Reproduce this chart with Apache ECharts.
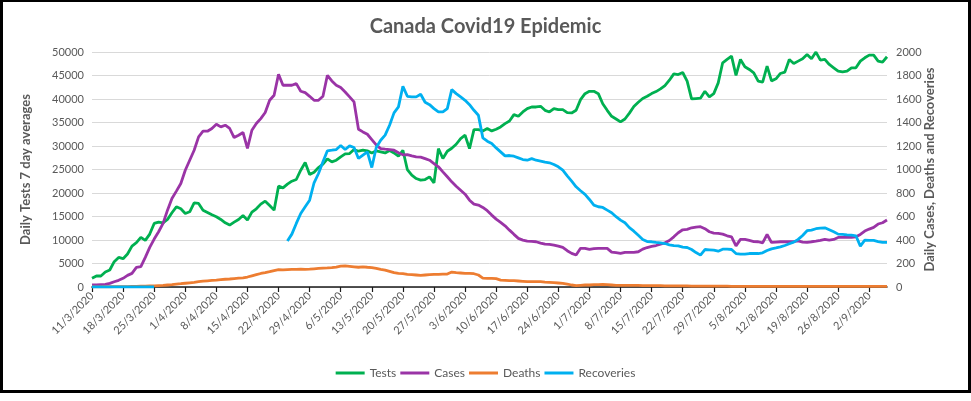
<!DOCTYPE html>
<html>
<head>
<meta charset="utf-8">
<script src="https://cdn.jsdelivr.net/npm/echarts@6/dist/echarts.min.js"></script>
<style>
html,body{margin:0;padding:0;background:#fff;}
#wrap{position:relative;width:971px;height:401px;}
#chart{position:absolute;left:0;top:0;width:971px;height:401px;}
#frame{position:absolute;left:0;top:0;width:971px;height:393px;box-sizing:border-box;border:3px solid #000;border-top-width:2px;pointer-events:none;}
</style>
</head>
<body>
<div id="wrap"><div id="chart"></div><div id="frame"></div></div>
<script>
// ---- data ----
const startDate = [2020, 3, 11];   // 11/3/2020, one point per day
const dayCount = 180;

const tests = [
1840,2340,2340,3190,3610,5380,6300,6020,7010,8710,9420,10550,9910,11260,13520,13800,13660,14370,15790,17060,
16640,15650,16000,17910,17770,16350,15860,15360,14940,14370,13660,13170,13800,14370,15220,14230,15930,16640,17630,18270,
17350,16350,21450,21100,21880,22510,22870,24850,26480,23930,24430,25420,26130,27260,26620,26970,27680,28320,28390,29240,
28890,29100,28960,28530,28960,
28750,28530,29030,28530,27820,29100,24990,23790,23080,22730,22870,23430,22160,29450,27330,28890,29520,30370,31580,32290,
29450,33490,33490,33210,33700,33210,33560,34050,34760,35330,36670,36320,37240,37950,38300,38300,38440,37590,37240,37950,
37740,37740,37100,37030,37590,39860,41130,41630,41630,41130,39000,37590,36320,35750,35120,35750,
37000,38400,39300,40100,40580,41150,41580,42150,42860,44000,45350,45210,45640,43790,40010,40090,40170,41650,40440,41150,
43430,47700,48420,49130,45000,48420,46850,46280,45570,43790,43570,46990,43860,44290,45430,45710,48420,47560,48060,48560,
49480,48560,49980,48270,48420,47350,46640,45920,45780,45920,46640,46640,48060,48770,49340,49340,48060,47850,48990
];

const cases = [
17,17,20,23,31,45,57,74,99,116,167,173,252,337,408,470,541,654,754,816,
881,994,1079,1164,1278,1326,1326,1349,1385,1363,1377,1349,1272,1292,1315,1179,1334,1391,1433,1485,
1589,1632,1810,1717,1717,1717,1731,1666,1654,1623,1589,1589,1623,1802,1754,1717,1697,1660,1618,1575,
1343,1320,1300,1255,1210,
1178,1173,1170,1164,1142,1125,1127,1116,1108,1105,1093,1079,1051,1023,980,938,895,858,824,790,
739,705,697,677,649,612,578,550,521,484,448,414,399,391,388,385,374,365,363,357,
348,337,309,286,272,329,329,320,326,329,329,329,297,292,286,295,
295,295,300,322,336,345,353,365,376,396,427,462,487,490,504,510,513,496,470,459,
456,450,436,427,350,405,405,396,387,385,376,447,379,382,385,385,385,387,393,382,
379,385,390,396,405,399,405,422,422,422,422,427,447,476,493,507,536,547,570
];

const deaths = [
1,1,1,2,2,3,3,4,4,5,6,7,8,9,10,12,14,17,20,25,
28,32,36,40,45,50,53,56,58,62,66,68,72,75,78,85,95,105,115,122,
130,140,148,145,148,150,150,152,150,152,155,158,160,162,165,170,178,180,176,172,
168,172,168,165,159,
150,144,133,122,116,113,108,105,102,99,102,105,108,108,110,110,127,122,119,116,
116,113,102,76,74,74,71,59,57,54,54,51,48,45,45,45,45,42,40,37,
34,31,25,17,11,14,17,17,20,20,23,20,17,14,14,14,
14,13,13,12,12,11,11,11,10,10,10,9,9,9,8,8,8,8,7,7,
7,7,7,6,6,6,6,6,6,6,6,6,5,5,5,5,5,5,5,5,
5,5,5,5,5,5,5,5,5,5,5,5,5,5,5,5,5,5,5
];

const recoveries = [
0,0,0,0,0,0,0,0,0,0,0,0,0,0,0,
null,null,null,null,null,null,null,null,null,null,null,null,null,null,null,
null,null,null,null,null,null,null,null,null,null,null,null,null,null,
391,450,541,626,683,739,887,966,1065,1159,1164,1170,1204,1170,1201,1187,1094,1122,1150,1017,1187,
1249,1292,1377,1482,1533,1708,1623,1618,1618,1640,1572,1552,1518,1490,1490,1518,1680,1646,1618,1589,
1552,1504,1462,1269,1241,1221,1184,1150,1116,1119,1113,1099,1085,1079,1093,1079,1071,1062,1057,1043,
1023,994,946,901,853,819,788,745,697,683,677,654,632,598,569,547,
505,475,440,405,387,385,379,376,370,359,353,350,339,336,319,293,271,319,316,313,
305,322,322,319,285,279,279,285,285,285,291,311,325,333,342,353,368,382,405,439,
479,484,496,501,504,487,470,450,447,444,442,436,348,399,396,396,387,379,379
];

const seriesNames = ['Tests', 'Cases', 'Deaths', 'Recoveries'];
const seriesColors = ['#00B050', '#9A34A6', '#ED7D31', '#00B0F0'];

// category labels d/m/yyyy
const dates = [];
for (let i = 0; i < dayCount; i++) {
  const d = new Date(startDate[0], startDate[1] - 1, startDate[2] + i);
  dates.push(d.getDate() + '/' + (d.getMonth() + 1) + '/' + d.getFullYear());
}

const FONT = 'Lato, "Open Sans", sans-serif';
const GREY = '#595959';
const plain = v => String(v);

const chart = echarts.init(document.getElementById('chart'), null, {renderer: 'canvas'});
const valueSets = [tests, cases, deaths, recoveries];

chart.setOption({
  animation: false,
  backgroundColor: '#fff',
  title: {
    text: 'Canada Covid19 Epidemic',
    left: 'center',
    top: 12,
    textStyle: {fontFamily: FONT, fontSize: 20, fontWeight: 'bold', color: GREY}
  },
  legend: {
    data: seriesNames,
    left: 'center',
    top: 362,
    icon: 'rect',
    itemWidth: 29,
    itemHeight: 3,
    itemGap: 4,
    textStyle: {fontFamily: FONT, fontSize: 12, color: GREY}
  },
  grid: {left: 92, right: 84, top: 52, bottom: 114, containLabel: false},
  xAxis: {
    type: 'category',
    data: dates,
    boundaryGap: false,
    axisLine: {show: true, lineStyle: {color: '#1a1a1a', width: 1.5}},
    axisTick: {show: true, interval: 6, length: 5, lineStyle: {color: '#1a1a1a', width: 1.2}},
    axisLabel: {interval: 6, rotate: 45, fontFamily: FONT, fontSize: 11, color: GREY, margin: 7},
    splitLine: {show: false}
  },
  yAxis: [
    {
      type: 'value', min: 0, max: 50000, interval: 5000, position: 'left',
      name: 'Daily Tests 7 day averages', nameLocation: 'middle', nameRotate: 90, nameGap: 60,
      nameMoveOverlap: false,
      nameTextStyle: {fontFamily: FONT, fontSize: 13, fontWeight: 'bold', color: GREY},
      axisLine: {show: false}, axisTick: {show: false},
      axisLabel: {fontFamily: FONT, fontSize: 11, color: GREY, margin: 8, formatter: plain},
      splitLine: {show: true, lineStyle: {color: '#d9d9d9', width: 1}}
    },
    {
      type: 'value', min: 0, max: 2000, interval: 200, position: 'right',
      name: 'Daily Cases, Deaths and Recoveries', nameLocation: 'middle', nameRotate: 90, nameGap: 36,
      nameMoveOverlap: false,
      nameTextStyle: {fontFamily: FONT, fontSize: 13, fontWeight: 'bold', color: GREY},
      axisLine: {show: false}, axisTick: {show: false},
      axisLabel: {fontFamily: FONT, fontSize: 11, color: GREY, margin: 9, formatter: plain},
      splitLine: {show: false}
    }
  ],
  series: seriesNames.map((name, i) => ({
    name: name,
    type: 'line',
    yAxisIndex: i === 0 ? 0 : 1,
    data: valueSets[i],
    symbol: 'none',
    smooth: false,
    connectNulls: false,
    lineStyle: {color: seriesColors[i], width: 2.8},
    itemStyle: {color: seriesColors[i]}
  }))
});
</script>
</body>
</html>
